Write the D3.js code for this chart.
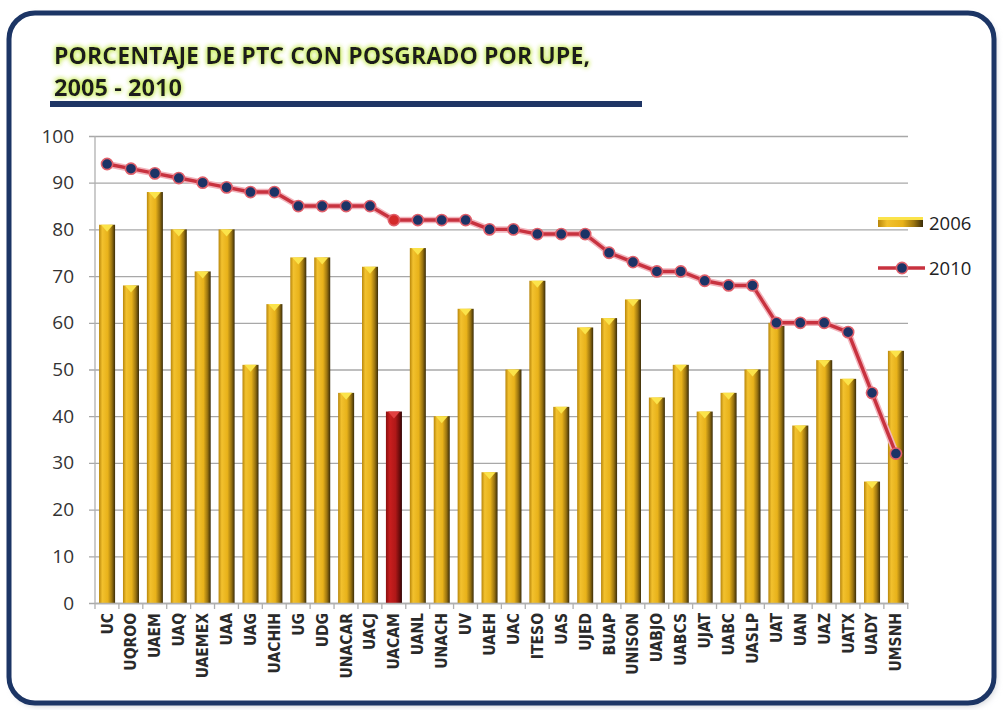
<!DOCTYPE html>
<html>
<head>
<meta charset="utf-8">
<script src="https://cdn.jsdelivr.net/npm/d3@7"></script>
<style>
  body { margin: 0; background: #ffffff; }
  text { font-family: "Open Sans", "DejaVu Sans", sans-serif; }
</style>
</head>
<body>
<script>
// chart data
var categories = ["UC", "UQROO", "UAEM", "UAQ", "UAEMEX", "UAA", "UAG", "UACHIH",
    "UG", "UDG", "UNACAR", "UACJ", "UACAM", "UANL", "UNACH", "UV", "UAEH", "UAC",
    "ITESO", "UAS", "UJED", "BUAP", "UNISON", "UABJO", "UABCS", "UJAT", "UABC",
    "UASLP", "UAT", "UAN", "UAZ", "UATX", "UADY", "UMSNH"];
var values2006 = [81, 68, 88, 80, 71, 80, 51, 64, 74, 74, 45, 72, 41, 76, 40, 63,
    28, 50, 69, 42, 59, 61, 65, 44, 51, 41, 45, 50, 60, 38, 52, 48, 26, 54];
var values2010 = [94, 93, 92, 91, 90, 89, 88, 88, 85, 85, 85, 85, 82, 82, 82, 82,
    80, 80, 79, 79, 79, 75, 73, 71, 71, 69, 68, 68, 60, 60, 60, 58, 45, 32];
var yTicks = [0, 10, 20, 30, 40, 50, 60, 70, 80, 90, 100];
var highlight = "UACAM";

var W = 1003, H = 710;
var plot = {left: 95, right: 908, top: 136, bottom: 603};

var svg = d3.select("body").append("svg")
    .attr("width", W)
    .attr("height", H);

var defs = svg.append("defs");

// gold cylinder look
var gold = defs.append("linearGradient").attr("id", "gold")
    .attr("x1", "0%").attr("x2", "100%");
gold.append("stop").attr("offset", "0%").attr("stop-color", "#b8860b");
gold.append("stop").attr("offset", "20%").attr("stop-color", "#f2c12e");
gold.append("stop").attr("offset", "55%").attr("stop-color", "#e8b21a");
gold.append("stop").attr("offset", "80%").attr("stop-color", "#9a7410");
gold.append("stop").attr("offset", "100%").attr("stop-color", "#3a2c08");

var red = defs.append("linearGradient").attr("id", "redbar")
    .attr("x1", "0%").attr("x2", "100%");
red.append("stop").attr("offset", "0%").attr("stop-color", "#8a0f0f");
red.append("stop").attr("offset", "25%").attr("stop-color", "#c81e1e");
red.append("stop").attr("offset", "60%").attr("stop-color", "#b01818");
red.append("stop").attr("offset", "85%").attr("stop-color", "#6a0c0c");
red.append("stop").attr("offset", "100%").attr("stop-color", "#300505");

var glow = defs.append("filter").attr("id", "glow")
    .attr("x", "-5%").attr("y", "-30%").attr("width", "110%").attr("height", "160%");
glow.append("feGaussianBlur").attr("in", "SourceAlpha").attr("stdDeviation", 2.4)
    .attr("result", "b");
glow.append("feFlood").attr("flood-color", "#c6ea52");
glow.append("feComposite").attr("in2", "b").attr("operator", "in").attr("result", "g");
var gm = glow.append("feMerge");
gm.append("feMergeNode").attr("in", "g");
gm.append("feMergeNode").attr("in", "g");
gm.append("feMergeNode").attr("in", "SourceGraphic");

var shadow = defs.append("filter").attr("id", "shadow")
    .attr("x", "-5%").attr("y", "-5%").attr("width", "110%").attr("height", "110%");
shadow.append("feGaussianBlur").attr("stdDeviation", 3);

// outer frame
svg.append("rect")
    .attr("x", 12).attr("y", 16).attr("width", 984).attr("height", 690)
    .attr("rx", 26)
    .attr("fill", "#c8ccd2")
    .attr("filter", "url(#shadow)");
svg.append("rect")
    .attr("x", 9).attr("y", 13).attr("width", 985).attr("height", 690)
    .attr("rx", 26)
    .attr("fill", "#ffffff")
    .attr("stroke", "#1c3565")
    .attr("stroke-width", 5);

// title
var title = svg.append("g").attr("filter", "url(#glow)");
title.append("text")
    .attr("x", 54).attr("y", 64)
    .attr("font-size", 23).attr("font-weight", "bold")
    .attr("textLength", 536).attr("lengthAdjust", "spacingAndGlyphs")
    .attr("fill", "#1a1a1a")
    .text("PORCENTAJE DE PTC CON POSGRADO POR UPE,");
title.append("text")
    .attr("x", 54).attr("y", 96)
    .attr("font-size", 23).attr("font-weight", "bold")
    .attr("textLength", 128).attr("lengthAdjust", "spacingAndGlyphs")
    .attr("fill", "#1a1a1a")
    .text("2005 - 2010");
svg.append("rect")
    .attr("x", 50).attr("y", 101).attr("width", 592).attr("height", 6)
    .attr("fill", "#1f3565");

// scales
var x = d3.scaleBand().domain(categories)
    .range([plot.left, plot.right]).paddingInner(0.33).paddingOuter(0.17);
var y = d3.scaleLinear().domain([0, 100]).range([plot.bottom, plot.top]);

// grid
svg.append("g")
    .attr("transform", "translate(" + plot.left + ",0)")
    .call(d3.axisLeft(y).tickValues(yTicks).tickSize(-(plot.right - plot.left))
        .tickPadding(21).tickFormat(d3.format("d")))
    .call(function(g) {
        g.select(".domain").remove();
        g.selectAll(".tick line").attr("stroke", "#a8a8a8").attr("stroke-width", 1.3)
            .attr("x1", -6);
        g.selectAll(".tick text").attr("font-size", 19).attr("fill", "#333")
            .style("font-family", "'Open Sans', sans-serif");
    });

// y axis line
svg.append("line")
    .attr("x1", plot.left).attr("x2", plot.left)
    .attr("y1", plot.top).attr("y2", plot.bottom)
    .attr("stroke", "#b0b0b0").attr("stroke-width", 1.3);

// bars
var barData = categories.map(function(c, i) { return {name: c, v: values2006[i]}; });
var bars = svg.append("g").selectAll("g").data(barData).enter().append("g");
bars.append("rect")
    .attr("x", function(d) { return x(d.name); })
    .attr("y", function(d) { return y(d.v); })
    .attr("width", x.bandwidth())
    .attr("height", function(d) { return y(0) - y(d.v); })
    .attr("fill", function(d) { return d.name == highlight ? "url(#redbar)" : "url(#gold)"; });
bars.append("path")
    .attr("d", function(d) {
        var x0 = x(d.name), w = x.bandwidth(), t = y(d.v);
        return "M" + (x0 + 2) + "," + t + "L" + (x0 + w - 2) + "," + t +
            "L" + (x0 + w / 2) + "," + (t + 7) + "Z";
    })
    .attr("fill", function(d) { return d.name == highlight ? "#e04040" : "#fbe34a"; });

// x axis
svg.append("g")
    .attr("transform", "translate(0," + plot.bottom + ")")
    .call(d3.axisBottom(x).tickSize(0).tickPadding(0))
    .call(function(g) {
        g.select(".domain").attr("stroke", "#b0b0b0").attr("stroke-width", 1.3);
        g.selectAll(".tick text")
            .attr("transform", "rotate(-90)")
            .attr("x", -10).attr("y", 0).attr("dy", "0.35em")
            .attr("text-anchor", "end")
            .attr("font-size", 15.5).attr("font-weight", "bold").attr("fill", "#2a2a2a")
            .style("font-family", "'Liberation Sans Narrow', 'DejaVu Sans Condensed', sans-serif");
    });
// small separators between categories
var step = x.step();
svg.append("g").selectAll("line").data(d3.range(categories.length + 1)).enter()
    .append("line")
    .attr("x1", function(i) { return plot.left + i * step; })
    .attr("x2", function(i) { return plot.left + i * step; })
    .attr("y1", plot.bottom).attr("y2", plot.bottom + 6)
    .attr("stroke", "#b0b0b0").attr("stroke-width", 1.3);

// 2010 line
var line = d3.line()
    .x(function(d, i) { return x(categories[i]) + x.bandwidth() / 2; })
    .y(function(d) { return y(d); });
svg.append("path").datum(values2010)
    .attr("d", line).attr("fill", "none")
    .attr("stroke", "#f2b4bc").attr("stroke-width", 6.5).attr("stroke-linejoin", "round");
svg.append("path").datum(values2010)
    .attr("d", line).attr("fill", "none")
    .attr("stroke", "#c8323f").attr("stroke-width", 3.4).attr("stroke-linejoin", "round");
svg.append("g").selectAll("circle").data(values2010).enter()
    .append("circle")
    .attr("cx", function(d, i) { return x(categories[i]) + x.bandwidth() / 2; })
    .attr("cy", function(d) { return y(d); })
    .attr("r", 5.6)
    .attr("fill", function(d, i) { return categories[i] == highlight ? "#d42a2a" : "#1c3366"; })
    .attr("stroke", "#e0606b").attr("stroke-width", 1.6);

// legend
var lg = svg.append("g");
lg.append("rect").attr("x", 878).attr("y", 217).attr("width", 45).attr("height", 10)
    .attr("fill", "url(#gold)");
lg.append("rect").attr("x", 878).attr("y", 217).attr("width", 45).attr("height", 3)
    .attr("fill", "#fbe34a");
lg.append("text").attr("x", 929).attr("y", 230).attr("font-size", 18.5).attr("fill", "#222")
    .text("2006");
lg.append("line").attr("x1", 878).attr("x2", 925).attr("y1", 268).attr("y2", 268)
    .attr("stroke", "#c8323f").attr("stroke-width", 3.4);
lg.append("circle").attr("cx", 902).attr("cy", 268).attr("r", 5.6)
    .attr("fill", "#1c3366").attr("stroke", "#e0606b").attr("stroke-width", 1.6);
lg.append("text").attr("x", 929).attr("y", 275).attr("font-size", 18.5).attr("fill", "#222")
    .text("2010");
</script>
</body>
</html>
